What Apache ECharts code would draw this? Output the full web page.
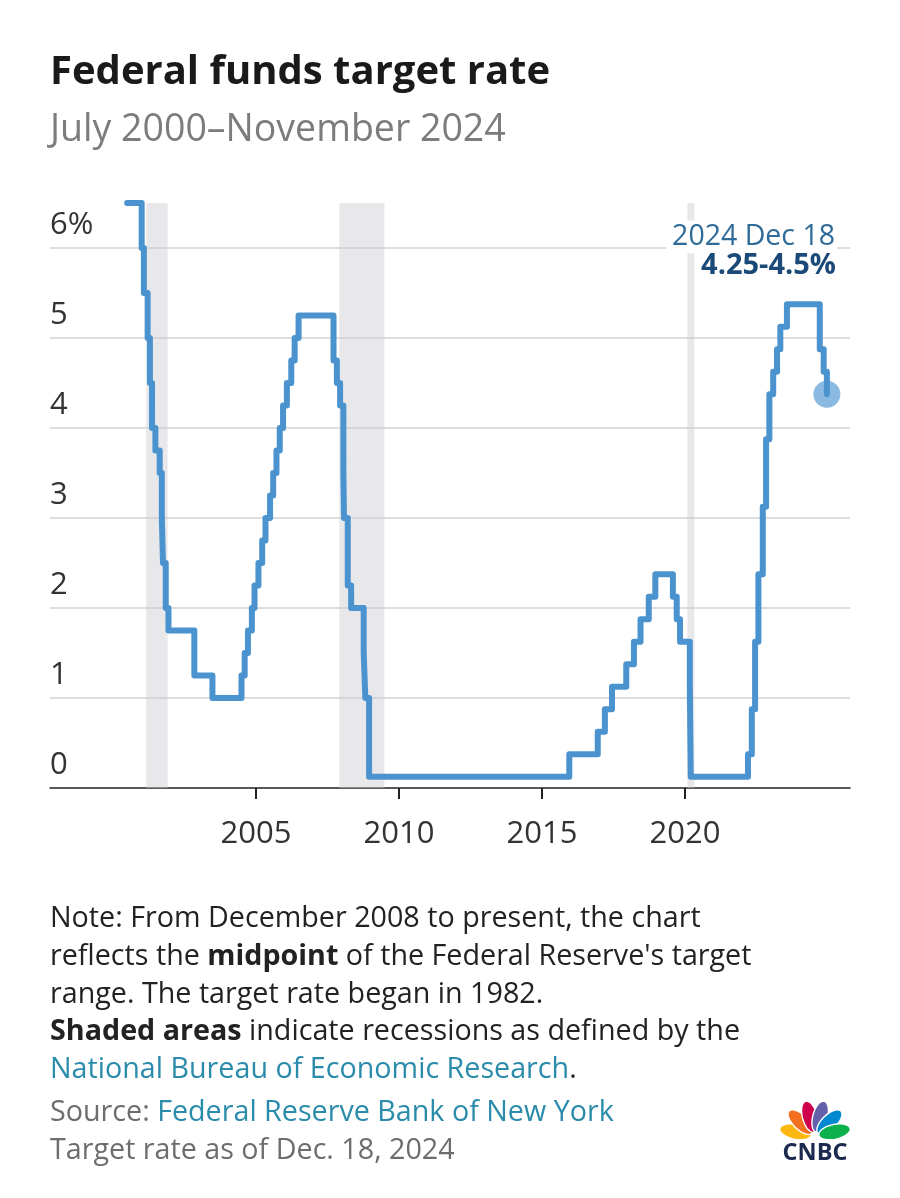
<!DOCTYPE html>
<html>
<head>
<meta charset="utf-8">
<script src="https://cdn.jsdelivr.net/npm/echarts@6/dist/echarts.min.js"></script>
<style>
html,body{margin:0;padding:0;background:#fff;}
#chart{width:900px;height:1198px;}
</style>
</head>
<body>
<div id="chart"></div>
<script>
// ---- Data ----
const changeDates = [
  '2000-07-01','2001-01-03','2001-01-31','2001-03-20','2001-04-18','2001-05-15','2001-06-27',
  '2001-08-21','2001-09-17','2001-10-02','2001-11-06','2001-12-11','2002-11-06','2003-06-25',
  '2004-06-30','2004-08-10','2004-09-21','2004-11-10','2004-12-14','2005-02-02','2005-03-22',
  '2005-05-03','2005-06-30','2005-08-09','2005-09-20','2005-11-01','2005-12-13','2006-01-31',
  '2006-03-28','2006-05-10','2006-06-29','2007-09-18','2007-10-31','2007-12-11','2008-01-22',
  '2008-01-30','2008-03-18','2008-04-30','2008-10-08','2008-10-29','2008-12-16','2015-12-16',
  '2016-12-14','2017-03-15','2017-06-14','2017-12-13','2018-03-21','2018-06-13','2018-09-26',
  '2018-12-19','2019-07-31','2019-09-18','2019-10-30','2020-03-03','2020-03-15','2022-03-16',
  '2022-05-04','2022-06-15','2022-07-27','2022-09-21','2022-11-02','2022-12-14','2023-02-01',
  '2023-03-22','2023-05-03','2023-07-26','2024-09-18','2024-11-07','2024-12-18'
];
const targetRates = [
  6.5, 6.0, 5.5, 5.0, 4.5, 4.0, 3.75,
  3.5, 3.0, 2.5, 2.0, 1.75, 1.25, 1.0,
  1.25, 1.5, 1.75, 2.0, 2.25, 2.5, 2.75,
  3.0, 3.25, 3.5, 3.75, 4.0, 4.25, 4.5,
  4.75, 5.0, 5.25, 4.75, 4.5, 4.25, 3.5,
  3.0, 2.25, 2.0, 1.5, 1.0, 0.125, 0.375,
  0.625, 0.875, 1.125, 1.375, 1.625, 1.875, 2.125,
  2.375, 2.125, 1.875, 1.625, 1.125, 0.125, 0.375,
  0.875, 1.625, 2.375, 3.125, 3.875, 4.375, 4.625,
  4.875, 5.125, 5.375, 4.875, 4.625, 4.375
];
const recessionStarts = ['2001-03-01', '2007-12-01', '2020-02-01'];
const recessionEnds   = ['2001-11-30', '2009-06-30', '2020-04-30'];
const xTickYears = [2005, 2010, 2015, 2020];
const yTickValues = [0, 1, 2, 3, 4, 5, 6];
const yTickLabels = ['0', '1', '2', '3', '4', '5', '6%'];
const lastLabelDate = '2024 Dec 18';
const lastLabelRange = '4.25-4.5%';

// ---- helpers ----
function toYear(s) {
  const d = new Date(s + 'T00:00:00Z');
  const y = d.getUTCFullYear();
  const a = Date.UTC(y, 0, 1), b = Date.UTC(y + 1, 0, 1);
  return y + (d.getTime() - a) / (b - a);
}
const FONT = "'Open Sans', 'Liberation Sans', sans-serif";
const lineData = changeDates.map((d, i) => [toYear(d), targetRates[i]]);
const lastPoint = lineData[lineData.length - 1];
const recessionAreas = recessionStarts.map((s, i) => [{ xAxis: toYear(s) }, { xAxis: toYear(recessionEnds[i]) }]);

// CNBC peacock feathers (decorative logo)
function ellipsePoints(cx, cy, a, b, thetaDeg) {
  const t = thetaDeg * Math.PI / 180;
  const ux = Math.cos(t), uy = -Math.sin(t);
  const vx = Math.sin(t), vy = Math.cos(t);
  const pts = [];
  for (let k = 0; k < 48; k++) {
    const p = k / 48 * Math.PI * 2;
    pts.push([cx + a * Math.cos(p) * ux + b * Math.sin(p) * vx,
              cy + a * Math.cos(p) * uy + b * Math.sin(p) * vy]);
  }
  return pts;
}
const featherColors = ['#fcb711', '#f37021', '#cc004c', '#6460aa', '#0089d0', '#0db14b'];
const featherAngles = [168, 136, 105, 75, 44, 12];
const baseX = 815, baseY = 1136;
const feathers = featherAngles.map((ang, i) => {
  const t = ang * Math.PI / 180;
  const d = 20;
  return {
    type: 'polygon',
    shape: { points: ellipsePoints(baseX + d * Math.cos(t), baseY - d * Math.sin(t), 16, 7.4, ang) },
    style: { fill: featherColors[i], stroke: '#fff', lineWidth: 1.4 },
    z: 10
  };
});

function txt(x, y, text, opts) {
  return {
    type: 'text', x: x, y: y, z: 20,
    style: Object.assign({ text: text, verticalAlign: 'middle', align: 'left' }, opts)
  };
}

const noteFont = '28.7px ' + FONT;
const noteBold = 'bold 28.7px ' + FONT;
const linkColor = '#2a8bab';
const noteColor = '#222222';
const grayColor = '#6d6d6d';

const chart = echarts.init(document.getElementById('chart'), null, { renderer: 'canvas' });
chart.setOption({
  animation: false,
  backgroundColor: '#ffffff',
  grid: { left: 50, right: 50, top: 203, bottom: 410, containLabel: false },
  xAxis: {
    type: 'value',
    min: 1997.8,
    max: 2025.77,
    axisLine: { show: true, lineStyle: { color: '#222', width: 1.5 } },
    axisTick: { show: true, customValues: xTickYears, length: 11, lineStyle: { color: '#222', width: 2 } },
    axisLabel: { customValues: xTickYears, fontSize: 31, fontFamily: FONT, color: '#333', margin: 31, lineHeight: 31,
                 formatter: v => String(v) },
    splitLine: { show: false }
  },
  yAxis: {
    type: 'value',
    min: 0,
    max: 6.5,
    interval: 1,
    axisLine: { show: false },
    axisTick: { show: false },
    axisLabel: {
      inside: true, margin: 0, align: 'left', verticalAlign: 'bottom',
      fontSize: 31, lineHeight: 31, fontFamily: FONT, color: '#333',
      padding: [0, 0, 7, 0],
      showMaxLabel: false,
      formatter: v => { const i = yTickValues.indexOf(v); return i >= 0 ? yTickLabels[i] : ''; }
    },
    splitLine: { show: true, showMinLine: false, showMaxLine: false, lineStyle: { color: '#d2d2d2', width: 1.5 } }
  },
  series: [
    {
      type: 'line', data: [], z: 1, silent: true,
      markArea: { silent: true, itemStyle: { color: 'rgba(205,205,210,0.45)' }, data: recessionAreas }
    },
    {
      type: 'scatter', data: [lastPoint], z: 2, silent: true,
      symbolSize: 27, itemStyle: { color: '#84b5e0', opacity: 0.95 }
    },
    {
      type: 'line', data: lineData, step: 'end', z: 3, silent: true,
      showSymbol: false, symbol: 'none',
      lineStyle: { color: '#4a93cf', width: 6, join: 'round', cap: 'round' }
    }
  ],
  graphic: [
    txt(50, 73, 'Federal funds target rate', { font: 'bold 40px ' + FONT, fill: '#1a1a1a' }),
    txt(50, 130, 'July 2000\u2013November 2024', { font: '37.5px ' + FONT, fill: '#7c7c7c' }),
    txt(837, 237, lastLabelDate, { font: '28.5px ' + FONT, fill: '#2f6b98', align: 'right',
        backgroundColor: '#ffffff', padding: [2, 2, 2, 6] }),
    txt(838, 266, lastLabelRange, { font: 'bold 29px ' + FONT, fill: '#1b4a78', align: 'right',
        backgroundColor: '#ffffff', padding: [2, 2, 2, 6] }),
    txt(50, 919, 'Note: From December 2008 to present, the chart', { font: noteFont, fill: noteColor }),
    txt(50, 957, 'reflects the {b|midpoint} of the Federal Reserve\'s target',
        { font: noteFont, fill: noteColor, rich: { b: { font: noteBold, fill: noteColor } } }),
    txt(50, 995, 'range. The target rate began in 1982.', { font: noteFont, fill: noteColor }),
    txt(50, 1032, '{b|Shaded areas} indicate recessions as defined by the',
        { font: noteFont, fill: noteColor, rich: { b: { font: noteBold, fill: noteColor } } }),
    txt(50, 1070, '{l|National Bureau of Economic Research}.',
        { font: noteFont, fill: noteColor, rich: { l: { font: noteFont, fill: linkColor } } }),
    txt(50, 1113, 'Source: {l|Federal Reserve Bank of New York}',
        { font: noteFont, fill: grayColor, rich: { l: { font: noteFont, fill: linkColor } } }),
    txt(50, 1151, 'Target rate as of Dec. 18, 2024', { font: noteFont, fill: grayColor }),
    ...feathers,
    txt(815, 1153, 'CNBC', { font: 'bold 23.5px ' + FONT, fill: '#1b2a4e', align: 'center' })
  ]
});
</script>
</body>
</html>
